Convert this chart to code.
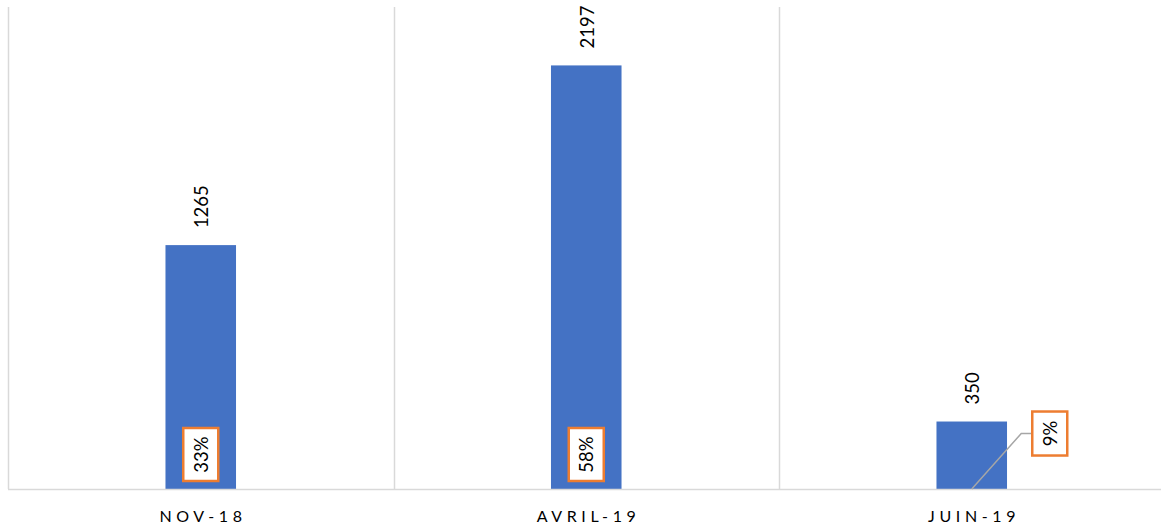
<!DOCTYPE html>
<html>
<head>
<meta charset="utf-8">
<script src="https://cdn.jsdelivr.net/npm/d3@7"></script>
<style>
  body { margin: 0; background: #fff; }
  #wrapper { width: 1161px; height: 531px; overflow: hidden; }
</style>
</head>
<body>
<div id="wrapper"></div>
<script>
// ---------- DATA -----------------------------------------------
const categories = ["NOV-18", "AVRIL-19", "JUIN-19"];
const values = [1265, 2197, 350];
const shares = ["33%", "58%", "9%"];
// which percent label sits outside its bar (with a leader line)
const outsideLabel = [false, false, true];

function drawChart() {
  // ---------- DIMENSIONS ----------------------------------------
  const dimensions = {
    width: 1161,
    height: 531,
    margin: { top: 7, right: -3.5, bottom: 42, left: 8 },
  };
  dimensions.boundedWidth =
    dimensions.width - dimensions.margin.left - dimensions.margin.right;
  dimensions.boundedHeight =
    dimensions.height - dimensions.margin.top - dimensions.margin.bottom;

  const svg = d3
    .select("#wrapper")
    .append("svg")
    .attr("width", dimensions.width)
    .attr("height", dimensions.height);

  const bounds = svg
    .append("g")
    .attr("transform", `translate(${dimensions.margin.left},${dimensions.margin.top})`);

  // ---------- SCALES ----------------------------------------
  const barRatio = 0.183;
  const xScale = d3
    .scaleBand()
    .domain(categories)
    .range([0, dimensions.boundedWidth])
    .paddingInner(1 - barRatio)
    .paddingOuter((1 - barRatio) / 2);

  const yScale = d3
    .scaleLinear()
    .domain([0, 2500])
    .range([dimensions.boundedHeight, 0]);

  const step = xScale.step();
  const font = "Lato, 'Open Sans', sans-serif";

  // vertical category separators
  bounds
    .selectAll(".sep")
    .data(categories)
    .join("line")
    .attr("class", "sep")
    .attr("x1", (d, i) => Math.round(i * step) + 0.5)
    .attr("x2", (d, i) => Math.round(i * step) + 0.5)
    .attr("y1", 0)
    .attr("y2", dimensions.boundedHeight)
    .attr("stroke", "#d9d9d9")
    .attr("stroke-width", 1.5);

  // ---------- BARS ----------------------------------------
  bounds
    .selectAll(".bar")
    .data(values)
    .join("rect")
    .attr("class", "bar")
    .attr("x", (d, i) => xScale(categories[i]))
    .attr("width", xScale.bandwidth())
    .attr("y", (d) => yScale(d))
    .attr("height", (d) => dimensions.boundedHeight - yScale(d))
    .attr("fill", "#4472c4");

  // baseline
  bounds
    .append("line")
    .attr("x1", 0)
    .attr("x2", dimensions.boundedWidth)
    .attr("y1", dimensions.boundedHeight + 0.5)
    .attr("y2", dimensions.boundedHeight + 0.5)
    .attr("stroke", "#d9d9d9")
    .attr("stroke-width", 1.5);

  const center = (i) => xScale(categories[i]) + xScale.bandwidth() / 2;

  // value labels, rotated
  bounds
    .selectAll(".value")
    .data(values)
    .join("text")
    .attr("class", "value")
    .attr("transform", (d, i) => `translate(${center(i) + 7.5},${yScale(d) - 17}) rotate(-90)`)
    .attr("text-anchor", "start")
    .style("font-family", font)
    .style("font-size", "18.5px")
    .attr("fill", "#000")
    .text((d) => d);

  // ---------- PERCENT LABELS ----------------------------------------
  const boxW = 35;
  shares.forEach((s, i) => {
    let p, h;
    if (outsideLabel[i]) {
      h = 44;
      p = { x: center(i) + 78, y: yScale(values[i]) + 12 };
      // leader line from bar base to label
      bounds
        .append("polyline")
        .attr("points", `${center(i)},${dimensions.boundedHeight} ${p.x - boxW / 2 - 11},${p.y} ${p.x - boxW / 2},${p.y}`)
        .attr("fill", "none")
        .attr("stroke", "#a6a6a6")
        .attr("stroke-width", 1.5);
    } else {
      h = 53;
      p = { x: center(i), y: dimensions.boundedHeight - 8 - h / 2 };
    }
    bounds
      .append("rect")
      .attr("x", p.x - boxW / 2)
      .attr("y", p.y - h / 2)
      .attr("width", boxW)
      .attr("height", h)
      .attr("fill", "#fff")
      .attr("stroke", "#ed7d31")
      .attr("stroke-width", 2.5);
    bounds
      .append("text")
      .attr("transform", `translate(${p.x + 7},${p.y}) rotate(-90)`)
      .attr("text-anchor", "middle")
      .style("font-family", font)
      .style("font-size", "18.5px")
      .attr("fill", "#000")
      .text(s);
  });

  // ---------- X AXIS LABELS ----------------------------------------
  const spacing = 4.6;
  bounds
    .selectAll(".xlabel")
    .data(categories)
    .join("text")
    .attr("class", "xlabel")
    .attr("x", (d, i) => center(i) + spacing / 2)
    .attr("y", dimensions.boundedHeight + 33)
    .attr("text-anchor", "middle")
    .style("font-family", font)
    .style("font-size", "16px")
    .style("letter-spacing", `${spacing}px`)
    .attr("fill", "#000")
    .text((d) => d);
}

drawChart();
</script>
</body>
</html>
